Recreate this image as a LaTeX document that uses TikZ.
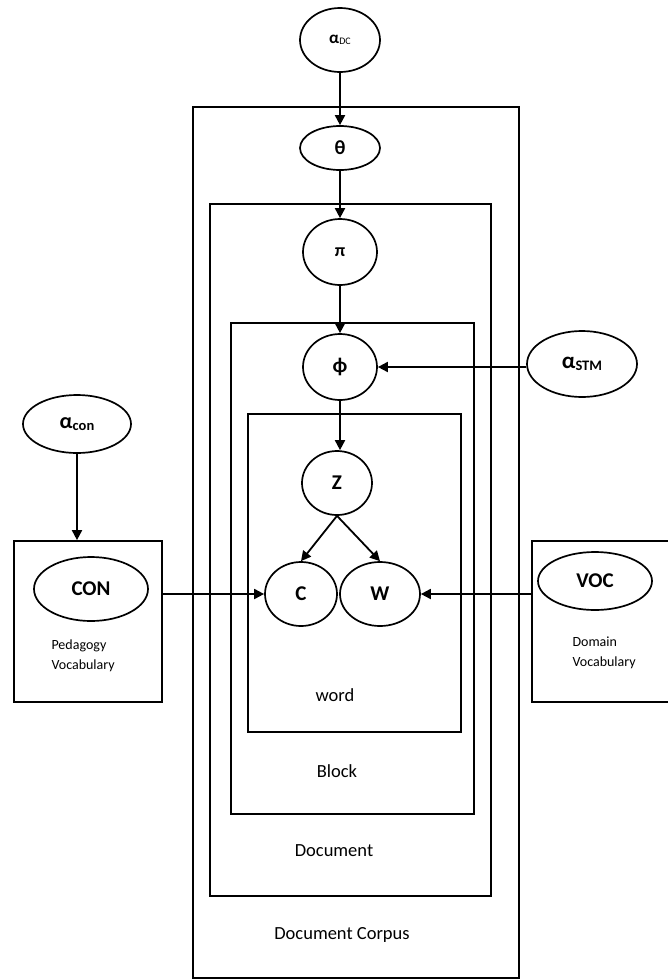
\documentclass[tikz,border=0pt]{standalone}
\usepackage{fontspec}
\setmainfont{Carlito}
\usetikzlibrary{shapes.geometric,arrows.meta}
\newcommand{\subtxt}[2]{{\fontsize{#1}{#1}\selectfont\raisebox{-0.25ex}{#2}}}
\begin{document}
\begin{tikzpicture}[x=1pt,y=-1pt,
  ell/.style={draw, ellipse, line width=1.7pt, inner sep=0pt, font=\fontsize{21}{23}\selectfont\bfseries},
  plate/.style={draw, rectangle, line width=1.7pt, inner sep=0pt},
  lbl/.style={font=\fontsize{18.5}{20}\selectfont},
  small/.style={font=\fontsize{14}{20}\selectfont, align=left, anchor=west},
  arr/.style={line width=1.8pt, -{Triangle[length=10pt,width=10pt]}},
]
\useasboundingbox (0,0) rectangle (668,980);
% plates
\node[plate, minimum width=326pt, minimum height=871pt] (corpus) at (356,542.5) {};
\node[plate, minimum width=281pt, minimum height=692pt] (document) at (350.5,550) {};
\node[plate, minimum width=243pt, minimum height=491pt] (block) at (352.5,568.5) {};
\node[plate, minimum width=213pt, minimum height=318pt] (word) at (354.5,573) {};
\node[plate, minimum width=148pt, minimum height=161pt] (lbox) at (88,621.5) {};
\draw[line width=1.7pt] (670,541) -- (532,541) coordinate (rtop) -- (532,702) coordinate (rbot) -- (670,702);
\coordinate (rleft) at (532,589);
% labels
\node[lbl] (lword) at (335,695) {word};
\node[lbl] (lblock) at (337,771) {Block};
\node[lbl] (ldoc) at (334,851) {Document};
\node[lbl] (lcorpus) at (342,935) {Document Corpus};
\node[small] (ped) at (48,656) {Pedagogy\\Vocabulary};
\node[small] (dom) at (569,653) {Domain\\Vocabulary};
% ellipses
\node[ell, minimum width=80pt, minimum height=64pt] (adc) at (340,40) {{\fontsize{17}{17}\selectfont α}\subtxt{10}{\mdseries DC}};
\node[ell, minimum width=80pt, minimum height=44pt] (theta) at (340,148) {\fontsize{20}{22}\selectfont θ};
\node[ell, minimum width=74pt, minimum height=66pt] (pi) at (340,252) {\fontsize{18}{20}\selectfont π};
\node[ell, minimum width=74pt, minimum height=66pt] (phi) at (340,367) {\fontsize{21}{22}\selectfont ϕ};
\node[ell, minimum width=110pt, minimum height=66pt] (astm) at (582,364) {{\fontsize{23}{23}\selectfont α}\subtxt{14.5}{STM}};
\node[ell, minimum width=70pt, minimum height=64pt] (z) at (337,483) {Z};
\node[ell, minimum width=72pt, minimum height=64pt] (c) at (301,594) {C};
\node[ell, minimum width=80pt, minimum height=64pt] (w) at (380,594) {W};
\node[ell, minimum width=108pt, minimum height=58pt] (acon) at (77,424) {{\fontsize{22}{22}\selectfont α}\subtxt{14.5}{con}};
\node[ell, minimum width=114pt, minimum height=64pt] (con) at (91,589) {CON};
\node[ell, minimum width=114pt, minimum height=58pt] (voc) at (595,581) {VOC};
% arrows
\draw[arr] (adc.south) -- (theta.north);
\draw[arr] (theta.south) -- (pi.north);
\draw[arr] (pi.south) -- (phi.north);
\draw[arr] (phi.south) -- (phi.south |- z.north);
\draw[arr] (z.south) -- (c.north);
\draw[arr] (z.south) -- (w.north);
\draw[arr] (astm.west |- phi.east) -- (phi.east);
\draw[arr] (acon.south) -- (acon.south |- lbox.north);
\draw[arr] (lbox.east |- c.west) -- (c.west);
\draw[arr] (rleft |- w.east) -- (w.east);
\end{tikzpicture}
\end{document}
